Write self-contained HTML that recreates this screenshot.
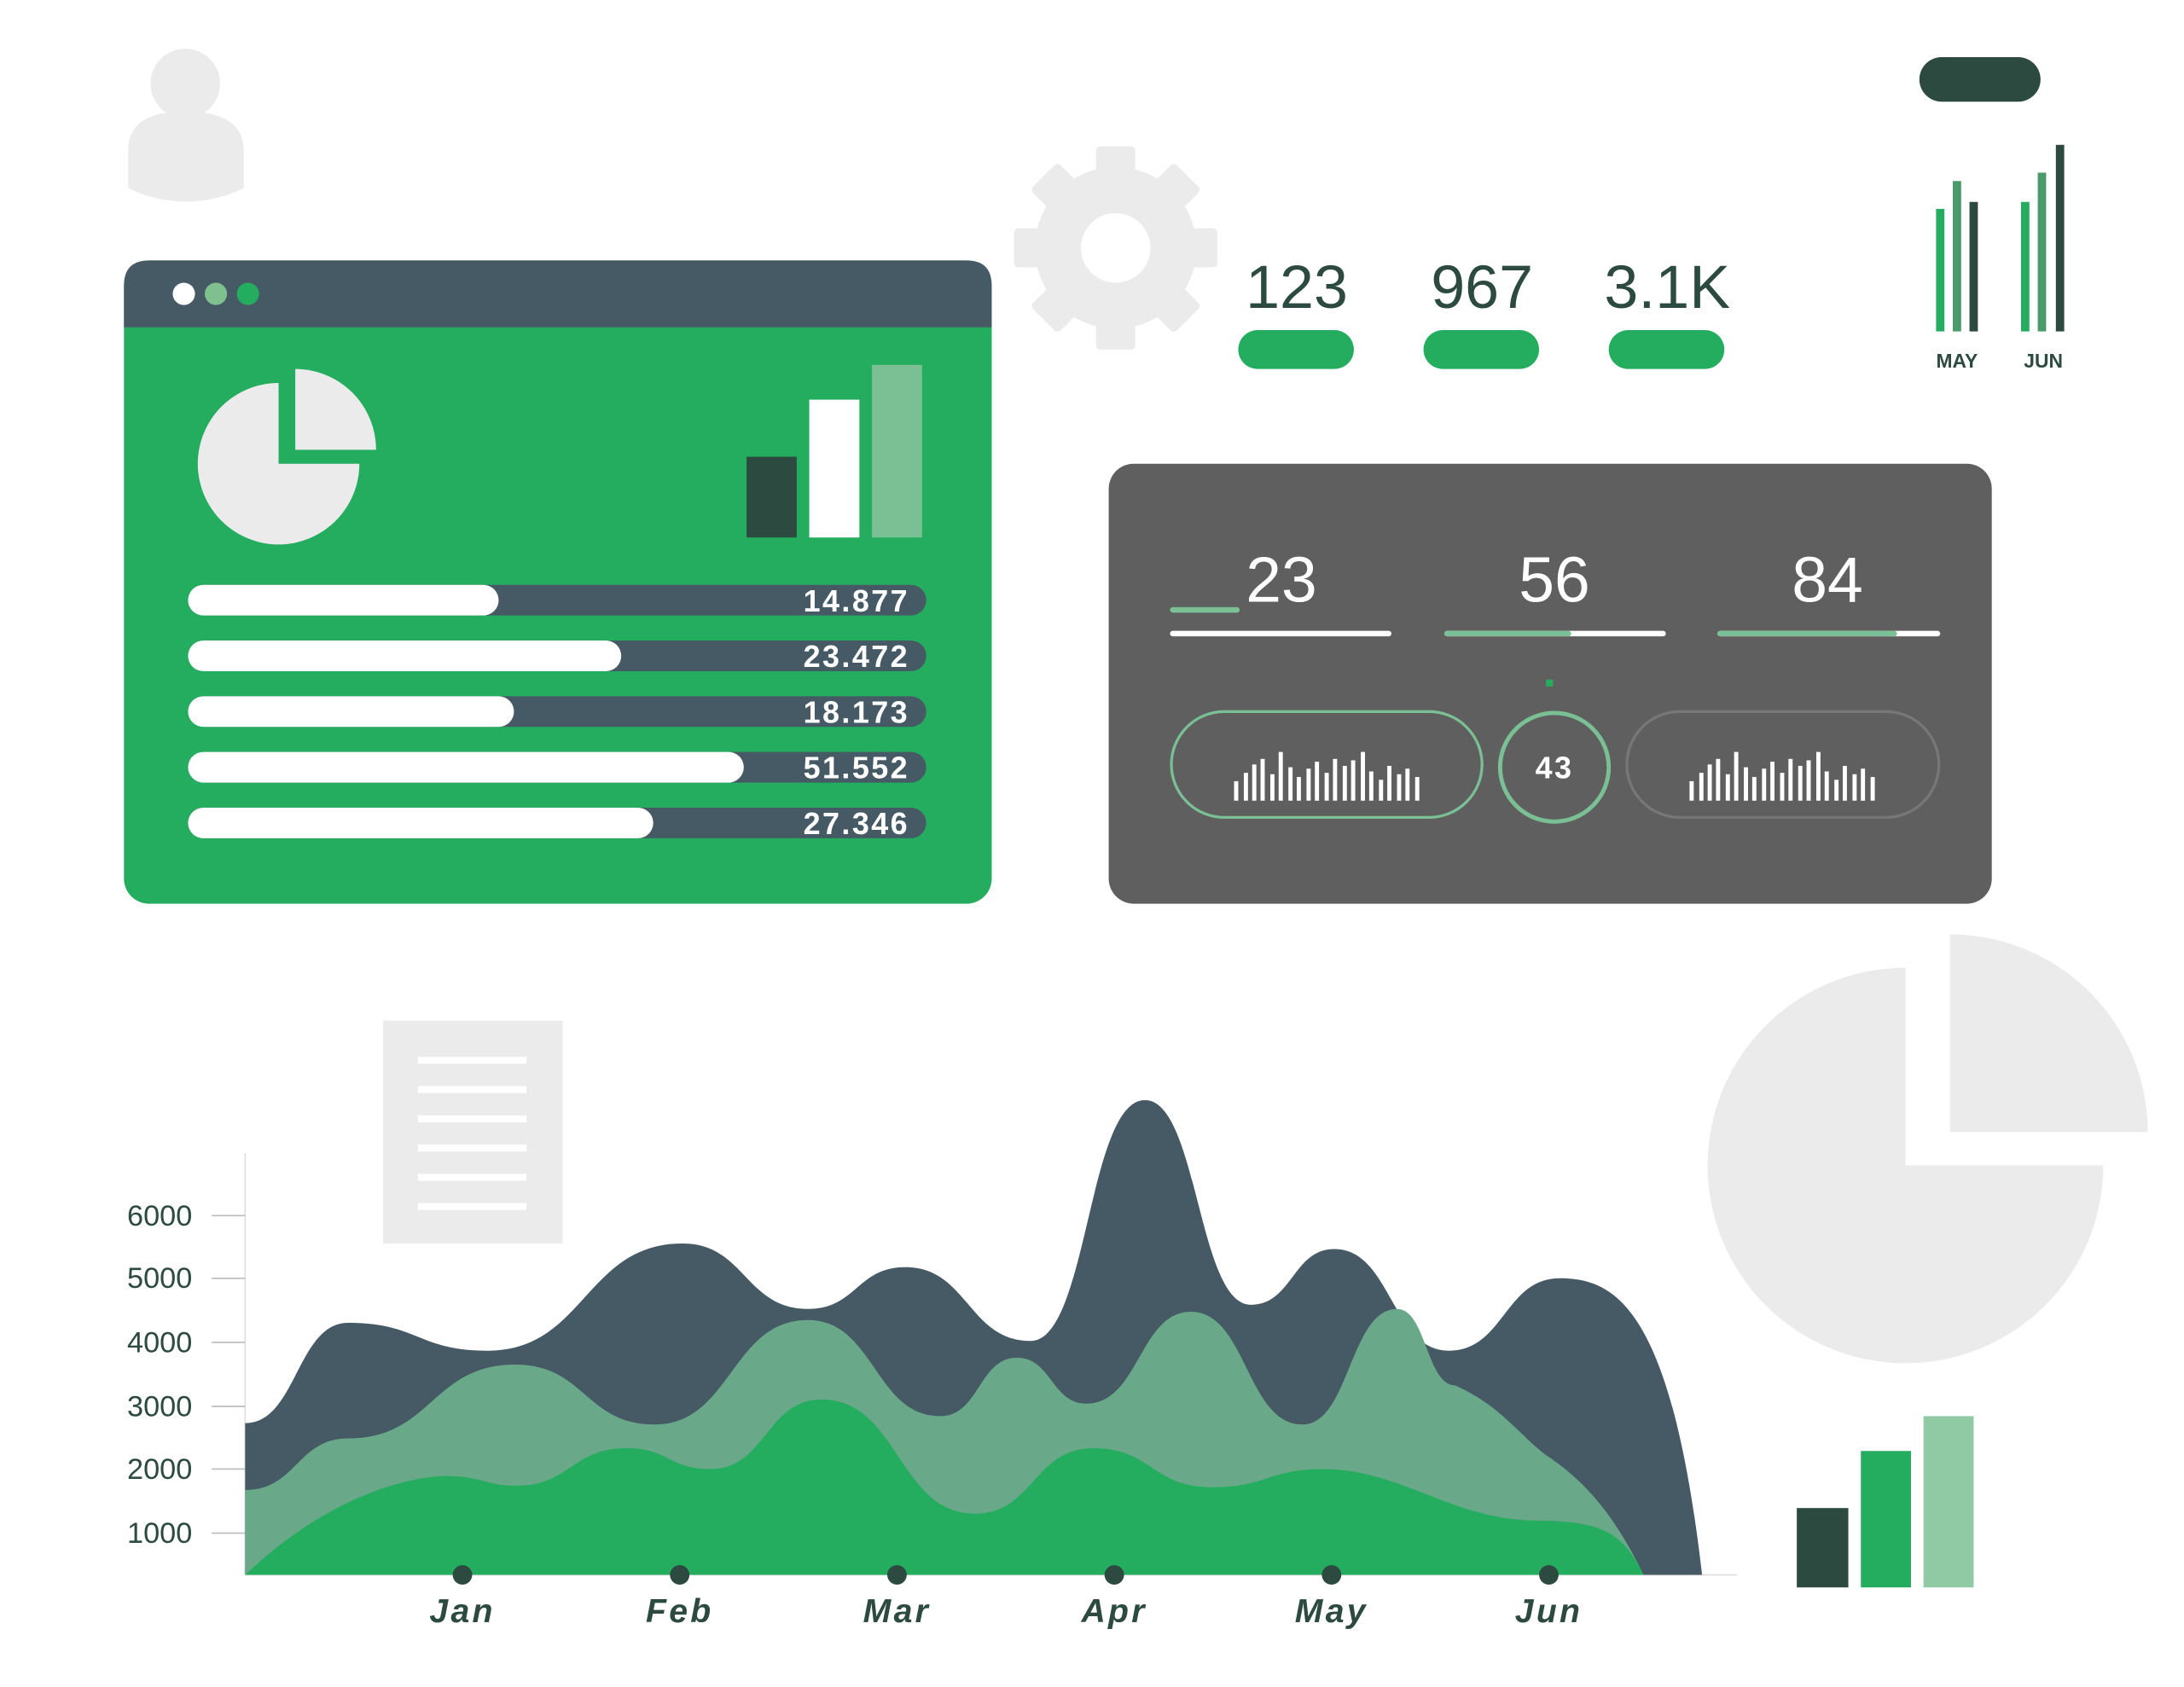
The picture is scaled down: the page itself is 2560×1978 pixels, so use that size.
<!DOCTYPE html>
<html><head><meta charset="utf-8"><style>html,body{margin:0;padding:0;background:#fff}svg{display:block}</style></head>
<body>
<svg width="2560" height="1978" viewBox="0 0 1568 1211.5" xmlns="http://www.w3.org/2000/svg" font-family="Liberation Sans, sans-serif">
<rect width="1570" height="1215" fill="#fff"/>
<circle cx="133" cy="60" r="25" fill="#ebebeb"/>
<path d="M92,135 L92,108 C92,88 108,80 133,80 C158,80 175,88 175,108 L175,135 C150,148 117,148 92,135 Z" fill="#ebebeb"/>
<g fill="#ebebeb" transform="translate(801,178)">
<circle r="58"/>
<g id="t"><rect x="-14" y="-73" width="28" height="22" rx="3"/></g>
<use href="#t" transform="rotate(45)"/><use href="#t" transform="rotate(90)"/><use href="#t" transform="rotate(135)"/>
<use href="#t" transform="rotate(180)"/><use href="#t" transform="rotate(225)"/><use href="#t" transform="rotate(270)"/><use href="#t" transform="rotate(315)"/>
<circle r="25" fill="#fff"/>
</g>
<rect x="89" y="187" width="623" height="462" rx="18" fill="#25ad5f"/>
<path d="M89,235 L89,205 Q89,187 107,187 L694,187 Q712,187 712,205 L712,235 Z" fill="#465a65"/>
<circle cx="132" cy="211" r="8" fill="#fff"/><circle cx="155" cy="211" r="8" fill="#7fc08f"/><circle cx="178" cy="211" r="8" fill="#25ad5f"/>
<path d="M200,333 L200,275 A58,58 0 1,0 258,333 Z" fill="#ebebeb"/>
<path d="M212,323 L212,265 A58,58 0 0,1 270,323 Z" fill="#ebebeb"/>
<rect x="536" y="328" width="36" height="58" fill="#2d4a40"/>
<rect x="581" y="287" width="36" height="99" fill="#fff"/>
<rect x="626" y="262" width="36" height="124" fill="#7bbf95"/>
<g font-weight="bold" font-size="22" fill="#fff" text-anchor="end" letter-spacing="1.5">
<rect x="135" y="420" width="530" height="22" rx="11" fill="#465a65"/><rect x="135" y="420" width="223" height="22" rx="11" fill="#fff"/><text x="653" y="439">14.877</text>
<rect x="135" y="460" width="530" height="22" rx="11" fill="#465a65"/><rect x="135" y="460" width="311" height="22" rx="11" fill="#fff"/><text x="653" y="479">23.472</text>
<rect x="135" y="500" width="530" height="22" rx="11" fill="#465a65"/><rect x="135" y="500" width="234" height="22" rx="11" fill="#fff"/><text x="653" y="519">18.173</text>
<rect x="135" y="540" width="530" height="22" rx="11" fill="#465a65"/><rect x="135" y="540" width="399" height="22" rx="11" fill="#fff"/><text x="653" y="559">51.552</text>
<rect x="135" y="580" width="530" height="22" rx="11" fill="#465a65"/><rect x="135" y="580" width="334" height="22" rx="11" fill="#fff"/><text x="653" y="599">27.346</text>
</g>
<g font-size="44" fill="#2d4a40" text-anchor="middle">
<text x="931" y="221">123</text><text x="1064" y="221">967</text><text x="1197" y="221">3.1K</text>
</g>
<rect x="889" y="237" width="83" height="28" rx="14" fill="#25ad5f"/>
<rect x="1022" y="237" width="83" height="28" rx="14" fill="#25ad5f"/>
<rect x="1155" y="237" width="83" height="28" rx="14" fill="#25ad5f"/>
<rect x="1378" y="41" width="87" height="32" rx="16" fill="#2d4a40"/>
<rect x="1390" y="150" width="6" height="88" fill="#25ad5f"/><rect x="1402" y="130" width="6" height="108" fill="#4a9a6a"/><rect x="1414" y="145" width="6" height="93" fill="#2d4a40"/>
<rect x="1451" y="145" width="6" height="93" fill="#25ad5f"/><rect x="1463" y="124" width="6" height="114" fill="#4a9a6a"/><rect x="1476" y="104" width="6" height="134" fill="#2d4a40"/>
<g font-size="14" font-weight="bold" fill="#2d4a40" text-anchor="middle"><text x="1405" y="264">MAY</text><text x="1467" y="264">JUN</text></g>
<rect x="796" y="333" width="634" height="316" rx="18" fill="#5f5f5f"/>
<g font-size="46" fill="#fff" text-anchor="middle"><text x="920" y="432">23</text><text x="1116" y="432">56</text><text x="1312" y="432">84</text></g>
<rect x="840" y="436" width="50" height="4" rx="2" fill="#7bbf95"/>
<rect x="840" y="453" width="159" height="4" rx="2" fill="#fff"/>
<rect x="1037" y="453" width="159" height="4" rx="2" fill="#fff"/><rect x="1037" y="453" width="91" height="4" rx="2" fill="#7bbf95"/>
<rect x="1233" y="453" width="160" height="4" rx="2" fill="#fff"/><rect x="1233" y="453" width="129" height="4" rx="2" fill="#7bbf95"/>
<rect x="1110" y="488" width="5" height="5" fill="#25ad5f"/>
<rect x="841" y="511" width="223" height="76" rx="38" fill="none" stroke="#7bbf95" stroke-width="2"/>
<rect x="1168" y="511" width="224" height="76" rx="38" fill="none" stroke="#777" stroke-width="2"/>
<circle cx="1116" cy="551" r="39" fill="none" stroke="#7bbf95" stroke-width="3"/>
<text x="1116" y="559" font-size="22" font-weight="bold" fill="#fff" text-anchor="middle" letter-spacing="1.5">43</text>
<g fill="#fff" id="mb">
<rect x="886" y="561" width="3" height="14"/><rect x="893" y="555" width="3" height="20"/><rect x="899" y="549" width="3" height="26"/><rect x="905" y="545" width="3" height="30"/><rect x="912" y="556" width="3" height="19"/><rect x="918" y="540" width="3" height="35"/><rect x="925" y="551" width="3" height="24"/><rect x="931" y="558" width="3" height="17"/><rect x="938" y="552" width="3" height="23"/><rect x="944" y="547" width="3" height="28"/><rect x="951" y="555" width="3" height="20"/><rect x="957" y="545" width="3" height="30"/><rect x="964" y="550" width="3" height="25"/><rect x="970" y="546" width="3" height="29"/><rect x="977" y="540" width="3" height="35"/><rect x="983" y="554" width="3" height="21"/><rect x="990" y="560" width="3" height="15"/><rect x="996" y="550" width="3" height="25"/><rect x="1003" y="556" width="3" height="19"/><rect x="1009" y="552" width="3" height="23"/><rect x="1016" y="558" width="3" height="17"/>
</g>
<use href="#mb" transform="translate(327,0)"/>
<rect x="275" y="733" width="129" height="160" fill="#ebebeb"/>
<g fill="#fff"><rect x="300" y="759" width="78" height="5"/><rect x="300" y="780" width="78" height="5"/><rect x="300" y="801" width="78" height="5"/><rect x="300" y="822" width="78" height="5"/><rect x="300" y="843" width="78" height="5"/><rect x="300" y="864" width="78" height="5"/></g>
<path d="M1368,837 L1368,695 A142,142 0 1,0 1510,837 Z" fill="#ebebeb"/>
<path d="M1400,813 L1400,671 A142,142 0 0,1 1542,813 Z" fill="#ebebeb"/>
<rect x="1290" y="1083" width="37" height="57" fill="#2d4a40"/>
<rect x="1336" y="1042" width="36" height="98" fill="#25ad5f"/>
<rect x="1381" y="1017" width="36" height="123" fill="#8fcaa5"/>
<line x1="176" y1="828" x2="176" y2="1131" stroke="#ddd" stroke-width="1"/>
<line x1="176" y1="1131" x2="1247" y2="1131" stroke="#ddd" stroke-width="1"/>
<g stroke="#bbb" stroke-width="1"><line x1="152" y1="873" x2="176" y2="873"/><line x1="152" y1="918" x2="176" y2="918"/><line x1="152" y1="964" x2="176" y2="964"/><line x1="152" y1="1010" x2="176" y2="1010"/><line x1="152" y1="1055" x2="176" y2="1055"/><line x1="152" y1="1101" x2="176" y2="1101"/></g>
<g font-size="21" fill="#2d4a40" text-anchor="end"><text x="138" y="880">6000</text><text x="138" y="925">5000</text><text x="138" y="971">4000</text><text x="138" y="1017">3000</text><text x="138" y="1062">2000</text><text x="138" y="1108">1000</text></g>
<path d="M176,1131 L176,1022 C213,1022 213,950 250,950 C300,950 300,970 350,970 C420,970 420,893 490,893 C535,893 535,940 580,940 C615,940 615,910 650,910 C695,910 695,963 740,963 C781,963 781,790 822,790 C860,790 860,937 898,937 C928,937 928,897 958,897 C999,897 999,970 1040,970 C1080,970 1080,918 1120,918 C1160,918 1200,940 1222,1131 Z" fill="#465a65"/>
<path d="M176,1131 L176,1070 C213,1070 213,1033 250,1033 C310,1033 310,980 370,980 C420,980 420,1023 470,1023 C525,1023 525,948 580,948 C628,948 628,1017 675,1017 C703,1017 703,975 730,975 C755,975 755,1008 780,1008 C818,1008 818,942 855,942 C895,942 895,1023 935,1023 C969,1023 969,940 1003,940 C1024,940 1024,995 1045,995 C1078,1010 1090,1030 1110,1045 C1140,1065 1160,1090 1180,1131 Z" fill="#6aa88a"/>
<path d="M176,1131 C240,1070 300,1060 320,1060 C345,1060 350,1067 370,1067 C410,1067 410,1040 450,1040 C480,1040 480,1055 510,1055 C550,1055 550,1005 590,1005 C645,1005 645,1087 700,1087 C742,1087 742,1040 785,1040 C827,1040 827,1068 870,1068 C910,1068 910,1055 950,1055 C1005,1055 1040,1090 1100,1092 C1150,1092 1165,1100 1180,1131 Z" fill="#25ad5f"/>
<g fill="#2d4a40"><circle cx="332" cy="1131" r="7"/><circle cx="488" cy="1131" r="7"/><circle cx="644" cy="1131" r="7"/><circle cx="800" cy="1131" r="7"/><circle cx="956" cy="1131" r="7"/><circle cx="1112" cy="1131" r="7"/></g>
<g font-size="24" font-style="italic" font-weight="bold" fill="#2d4a40" text-anchor="middle" letter-spacing="2"><text x="332" y="1165">Jan</text><text x="488" y="1165">Feb</text><text x="644" y="1165">Mar</text><text x="800" y="1165">Apr</text><text x="956" y="1165">May</text><text x="1112" y="1165">Jun</text></g>
</svg>
</body></html>
